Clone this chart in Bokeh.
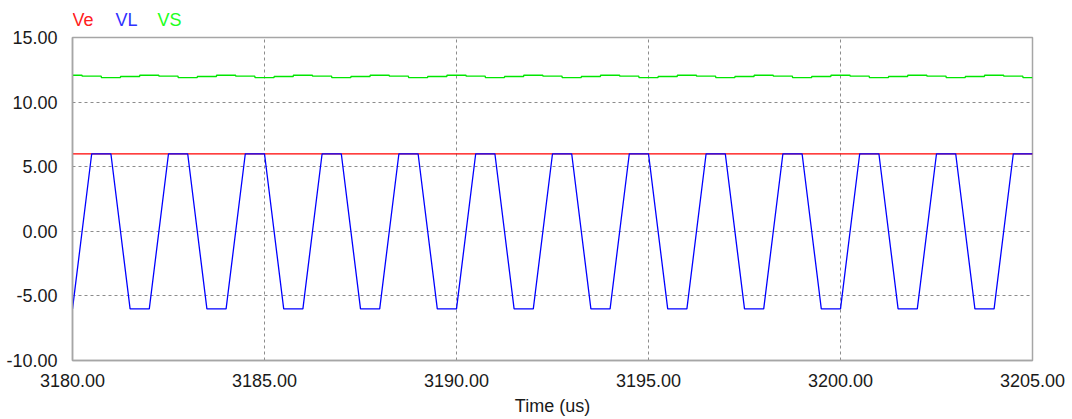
from bokeh.plotting import figure
from bokeh.layouts import column
from bokeh.models import Range1d, FixedTicker, NumeralTickFormatter
from bokeh.core.properties import value
from bokeh.embed import file_html
from bokeh.resources import INLINE

# Simulation samples (time in microseconds)
time_us = [
    3180.0, 3180.5, 3181.0, 3181.5, 3182.0, 3182.5, 3183.0, 3183.5, 3184.0, 3184.5,
    3185.0, 3185.5, 3186.0, 3186.5, 3187.0, 3187.5, 3188.0, 3188.5, 3189.0, 3189.5,
    3190.0, 3190.5, 3191.0, 3191.5, 3192.0, 3192.5, 3193.0, 3193.5, 3194.0, 3194.5,
    3195.0, 3195.5, 3196.0, 3196.5, 3197.0, 3197.5, 3198.0, 3198.5, 3199.0, 3199.5,
    3200.0, 3200.5, 3201.0, 3201.5, 3202.0, 3202.5, 3203.0, 3203.5, 3204.0, 3204.5,
    3205.0,
]

# Ve: constant input level
ve_time = [3180.0, 3205.0]
ve_volts = [6.0, 6.0]

# VL: trapezoidal load voltage
vl_volts = [
    -6.0, 6.0, 6.0, -6.0, -6.0, 6.0, 6.0, -6.0, -6.0, 6.0,
    6.0, -6.0, -6.0, 6.0, 6.0, -6.0, -6.0, 6.0, 6.0, -6.0,
    -6.0, 6.0, 6.0, -6.0, -6.0, 6.0, 6.0, -6.0, -6.0, 6.0,
    6.0, -6.0, -6.0, 6.0, 6.0, -6.0, -6.0, 6.0, 6.0, -6.0,
    -6.0, 6.0, 6.0, -6.0, -6.0, 6.0, 6.0, -6.0, -6.0, 6.0,
    6.0,
]

# VS: supply voltage with small ripple
vs_volts = [
    12.08, 12.01, 11.90, 11.98, 12.08, 12.01, 11.90, 11.98, 12.08, 12.01,
    11.90, 11.98, 12.08, 12.01, 11.90, 11.98, 12.08, 12.01, 11.90, 11.98,
    12.08, 12.01, 11.90, 11.98, 12.08, 12.01, 11.90, 11.98, 12.08, 12.01,
    11.90, 11.98, 12.08, 12.01, 11.90, 11.98, 12.08, 12.01, 11.90, 11.98,
    12.08, 12.01, 11.90, 11.98, 12.08, 12.01, 11.90, 11.98, 12.08, 12.01,
    11.90,
]

series_names = ["Ve", "VL", "VS"]
series_colors = ["#ff0000", "#0000ff", "#00e600"]
name_colors = ["#ff2020", "#3030ff", "#20ff20"]

x_ticks = [3180, 3185, 3190, 3195, 3200, 3205]
y_ticks = [-10, -5, 0, 5, 10, 15]

FONT = "Liberation Sans"
FRAME = "#a6a6a6"
GRID = "#8c8c8c"
TEXT = "#1a1a1a"
W, H = 1072, 419
HEADER_H = 30
LEFT, RIGHT = 72, 40

# Header strip for the coloured series names.  Its frame lines up with the
# main plot frame, so the x range is given in canvas pixels of that frame.
header = figure(
    width=W, height=HEADER_H,
    x_range=Range1d(LEFT, W - RIGHT), y_range=Range1d(HEADER_H, 0),
    output_backend="svg", toolbar_location=None,
    x_axis_location=None, y_axis_location=None,
    min_border_left=LEFT, min_border_right=RIGHT,
    min_border_top=0, min_border_bottom=0,
)
header.outline_line_color = None
header.grid.visible = False
header.background_fill_color = "white"
header.border_fill_color = "white"
header.text(
    x=[72, 115, 157], y=[19, 19, 19], text=series_names,
    text_color=name_colors, text_font=value(FONT), text_font_size="18px",
    text_baseline="middle", text_align="left",
)

p = figure(
    width=W, height=H - HEADER_H,
    x_range=Range1d(x_ticks[0], x_ticks[-1]),
    y_range=Range1d(y_ticks[0], y_ticks[-1]),
    output_backend="svg", toolbar_location=None,
    min_border_left=LEFT, min_border_right=RIGHT,
    min_border_top=37 - HEADER_H, min_border_bottom=59,
)
p.background_fill_color = "white"
p.border_fill_color = "white"
p.outline_line_color = FRAME
p.outline_line_width = 1.5

for ax in (p.xaxis, p.yaxis):
    ax.axis_line_color = FRAME
    ax.axis_line_width = 1.5
    ax.major_tick_line_color = None
    ax.minor_tick_line_color = None
    ax.major_label_text_font = FONT
    ax.major_label_text_font_size = "18px"
    ax.major_label_text_color = TEXT
    ax.formatter = NumeralTickFormatter(format="0.00")

p.xaxis.ticker = FixedTicker(ticks=x_ticks)
p.yaxis.ticker = FixedTicker(ticks=y_ticks)
p.xaxis.major_label_standoff = 7
p.yaxis.major_label_standoff = 9
p.xaxis.axis_label = "Time (us)"
p.xaxis.axis_label_text_font = FONT
p.xaxis.axis_label_text_font_size = "18px"
p.xaxis.axis_label_text_font_style = "normal"
p.xaxis.axis_label_text_color = TEXT
p.xaxis.axis_label_standoff = 6

p.xgrid.ticker = FixedTicker(ticks=x_ticks[1:-1])
p.ygrid.ticker = FixedTicker(ticks=y_ticks[1:-1])
for g in (p.xgrid, p.ygrid):
    g.grid_line_color = GRID
    g.grid_line_dash = "3 3"
    g.grid_line_width = 1

p.line(ve_time, ve_volts, line_color=series_colors[0], line_width=1.3)
p.line(time_us, vl_volts, line_color=series_colors[1], line_width=1.3)
p.step(time_us, vs_volts, mode="center", line_color=series_colors[2], line_width=1.3)

layout = column(header, p, spacing=0)
open("out.html", "w").write(file_html(layout, INLINE))
